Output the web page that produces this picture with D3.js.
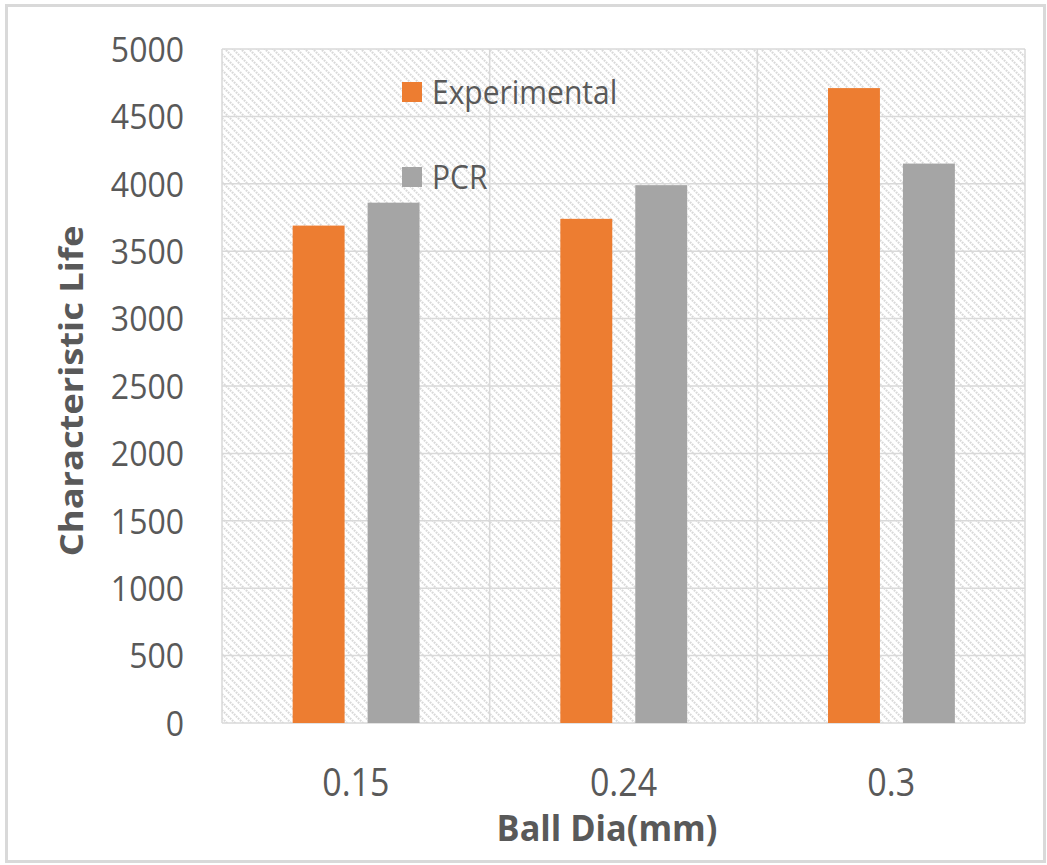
<!DOCTYPE html>
<html>
<head>
<meta charset="utf-8">
<script src="https://cdn.jsdelivr.net/npm/d3@7"></script>
<style>
  html, body { margin: 0; padding: 0; background: #fff; }
  svg { display: block; }
  text { font-family: "Open Sans", "Noto Sans", sans-serif; fill: #595959; }
</style>
</head>
<body>
<svg id="chart" width="1047" height="865"></svg>
<script>
// Characteristic life by solder ball diameter: experimental vs. PCR estimate
const categories = ["0.15", "0.24", "0.3"];
const seriesNames = ["Experimental", "PCR"];
const experimental = [3690, 3740, 4710];
const pcr = [3860, 3990, 4150];
const yTicks = [0, 500, 1000, 1500, 2000, 2500, 3000, 3500, 4000, 4500, 5000];
const colors = { Experimental: "#ED7D31", PCR: "#A5A5A5" };

const svg = d3.select("#chart");
const plot = { left: 222, right: 1025, top: 49, bottom: 723 };
const stretch = 1.1; // text is drawn slightly taller than wide

// outer frame
svg.append("rect")
  .attr("x", 6.5).attr("y", 5.5).attr("width", 1038).attr("height", 856)
  .attr("fill", "#fff").attr("stroke", "#d9d9d9").attr("stroke-width", 3);

// diagonal hatch fill for the plot area
const defs = svg.append("defs");
const pat = defs.append("pattern")
  .attr("id", "hatch").attr("patternUnits", "userSpaceOnUse")
  .attr("width", 8).attr("height", 8);
pat.append("rect").attr("width", 8).attr("height", 8).attr("fill", "#fff");
pat.append("path")
  .attr("d", "M-2,-2 L10,10 M-2,6 L2,10 M6,-2 L10,2")
  .attr("stroke", "#d9d9d9").attr("stroke-width", 2.1)
  .attr("stroke-dasharray", "1.8,1");

const x = d3.scaleBand().domain(categories).range([plot.left, plot.right]).padding(0);
const bw = x.bandwidth();
const x1 = d3.scaleBand().domain(seriesNames)
  .range([bw * 0.264, bw * 0.738]).paddingInner(0.307).paddingOuter(0);
const y = d3.scaleLinear().domain([0, 5000]).range([plot.bottom, plot.top]);

svg.append("rect")
  .attr("x", plot.left).attr("y", plot.top)
  .attr("width", plot.right - plot.left).attr("height", plot.bottom - plot.top)
  .attr("fill", "url(#hatch)");

// horizontal gridlines
svg.append("g").selectAll("line").data(yTicks).join("line")
  .attr("x1", plot.left).attr("x2", plot.right)
  .attr("y1", d => y(d)).attr("y2", d => y(d))
  .attr("stroke", "#d9d9d9").attr("stroke-width", 1.5);

// vertical category dividers and plot edges
const vlines = [plot.left, ...categories.map(c => x(c) + bw)];
svg.append("g").selectAll("line").data(vlines).join("line")
  .attr("x1", d => d).attr("x2", d => d)
  .attr("y1", plot.top).attr("y2", plot.bottom)
  .attr("stroke", "#d9d9d9").attr("stroke-width", 1.5);

// bars
const rows = categories.map((c, i) => ({ cat: c, values: [
  { name: "Experimental", value: experimental[i] },
  { name: "PCR", value: pcr[i] }
]}));
svg.append("g").selectAll("g").data(rows).join("g")
  .attr("transform", d => `translate(${x(d.cat)},0)`)
  .selectAll("rect").data(d => d.values).join("rect")
  .attr("x", d => x1(d.name)).attr("width", x1.bandwidth())
  .attr("y", d => y(d.value)).attr("height", d => y(0) - y(d.value))
  .attr("fill", d => colors[d.name]);

// y axis labels
const yAxis = svg.append("g").attr("transform", `translate(${plot.left},0)`)
  .call(d3.axisLeft(y).tickValues(yTicks).tickSize(0).tickPadding(38).tickFormat(d3.format("d")));
yAxis.select(".domain").remove();
yAxis.selectAll("text").style("font-size", "32px").attr("fill", "#595959")
  .attr("dy", "0.35em").attr("transform", `scale(1,${stretch})`);

// x axis labels
const xAxis = svg.append("g").attr("transform", `translate(0,${plot.bottom})`)
  .call(d3.axisBottom(x).tickSize(0).tickPadding(0));
xAxis.select(".domain").remove();
xAxis.selectAll("text").style("font-size", "34px").attr("fill", "#595959")
  .attr("dy", null).attr("y", 0)
  .attr("transform", `translate(0,73) scale(1,${stretch})`);

// axis titles
svg.append("text")
  .attr("transform", `translate(83,391) rotate(-90) scale(${stretch},1)`)
  .attr("text-anchor", "middle")
  .style("font-size", "33px").style("font-weight", "bold")
  .text("Characteristic  Life");
svg.append("text")
  .attr("transform", `translate(607,841) scale(1.04,${stretch})`)
  .attr("text-anchor", "middle")
  .style("font-size", "33px").style("font-weight", "bold")
  .text("Ball Dia(mm)");

// legend
const legend = svg.append("g").selectAll("g").data(seriesNames).join("g")
  .attr("transform", (d, i) => `translate(402,${82 + i * 85})`);
legend.append("rect").attr("width", 20).attr("height", 20)
  .attr("fill", d => colors[d]);
legend.append("text").attr("transform", `translate(30,10) scale(1,${stretch})`)
  .attr("dy", "0.35em")
  .style("font-size", "30px").text(d => d);
</script>
</body>
</html>
